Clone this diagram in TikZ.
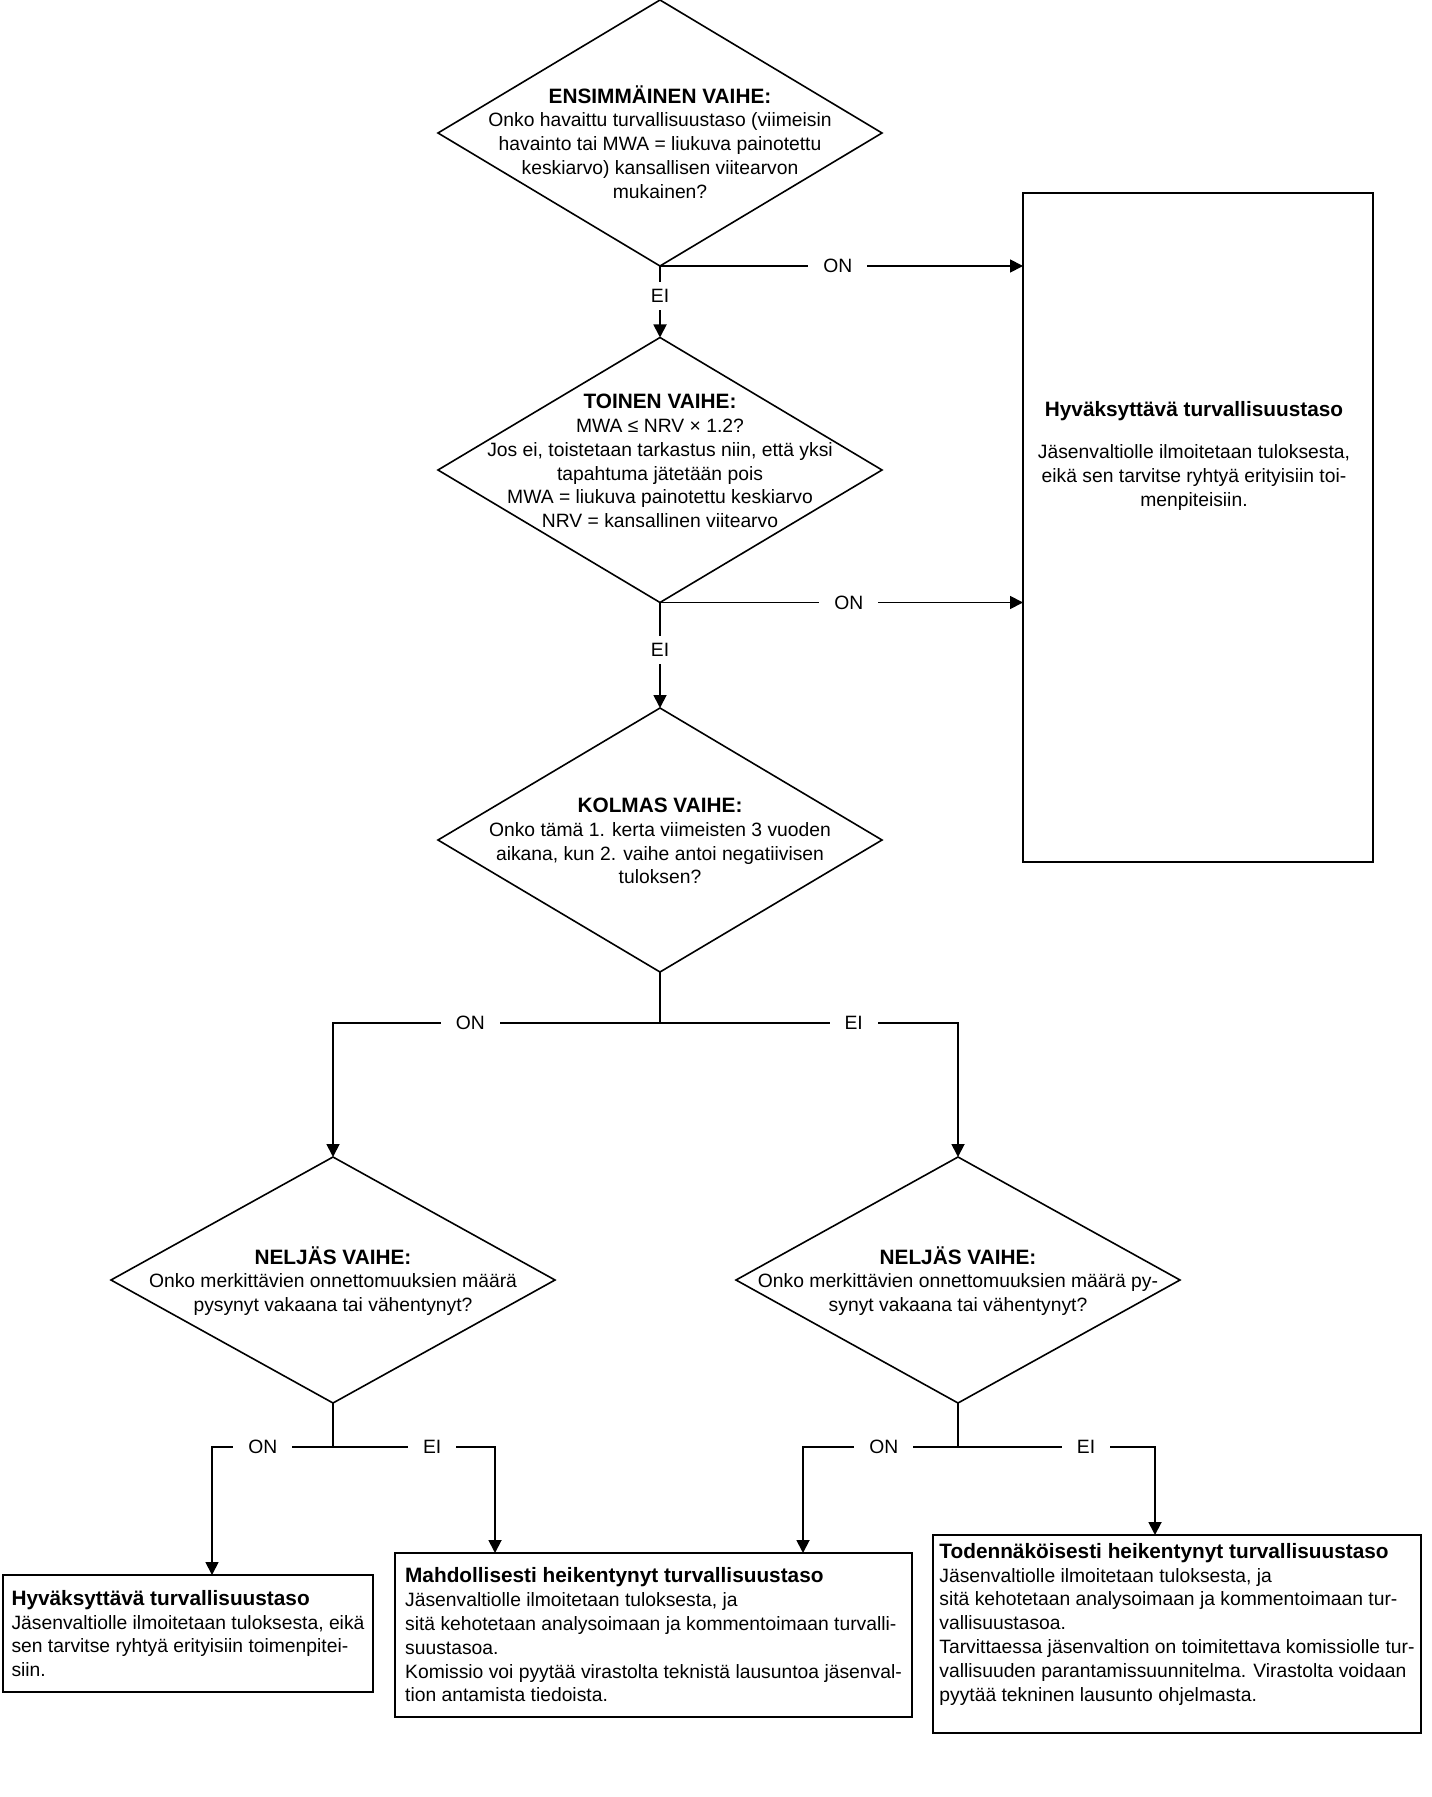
\documentclass[tikz,border=0pt]{standalone}
\usepackage{fontspec}
\setmainfont{Liberation Sans}
\usetikzlibrary{shapes.geometric,arrows.meta}
\newcommand{\teksti}{\fontsize{9.65}{11.9}\selectfont}
\newcommand{\otsikko}[1]{{\fontsize{10.4}{11.9}\selectfont\bfseries #1}}

\begin{document}
\begin{tikzpicture}[x=0.5pt, y=-0.5pt, line width=0.9pt,
    >={Triangle[length=6.5pt,width=6.5pt]},
    vaihe/.style={draw, diamond, inner sep=0pt, outer sep=0pt, minimum width=222pt, line width=0.8pt},
    vteksti/.style={align=center, inner sep=0pt, font=\teksti},
    tulos/.style={draw, rectangle, outer sep=0pt, align=left, inner sep=0pt, font=\teksti},
    haara/.style={fill=white, inner xsep=7.5pt, inner ysep=3.5pt, font=\teksti}]
    \useasboundingbox (0,0) rectangle (1431,1797);

    % vaiheet
    \node[vaihe, minimum height=133pt] (d1) at (660,133) {};
    \node[vaihe, minimum height=132.5pt] (d2) at (660,470) {};
    \node[vaihe, minimum height=132pt] (d3) at (660,840) {};
    \node[vaihe, minimum height=123pt] (d4a) at (333,1280) {};
    \node[vaihe, minimum height=123pt] (d4b) at (958,1280) {};

    \node[vteksti] (t1) at (660,142) {\otsikko{ENSIMMÄINEN VAIHE:}\\
      Onko havaittu turvallisuustaso (viimeisin\\
      havainto tai MWA = liukuva painotettu\\
      keskiarvo) kansallisen viitearvon\\
      mukainen?};
    \node[vteksti] (t2) at (660,461) {\otsikko{TOINEN VAIHE:}\\
      MWA ≤ NRV × 1.2?\\
      Jos ei, toistetaan tarkastus niin, että yksi\\
      tapahtuma jätetään pois\\
      MWA = liukuva painotettu keskiarvo\\
      NRV = kansallinen viitearvo};
    \node[vteksti] (t3) at (660,841) {\otsikko{KOLMAS VAIHE:}\\
      Onko tämä 1. kerta viimeisten 3 vuoden\\
      aikana, kun 2. vaihe antoi negatiivisen\\
      tuloksen?};
    \node[vteksti] (t4a) at (333,1281) {\otsikko{NELJÄS VAIHE:}\\
      Onko merkittävien onnettomuuksien määrä\\
      pysynyt vakaana tai vähentynyt?};
    \node[vteksti] (t4b) at (958,1281) {\otsikko{NELJÄS VAIHE:}\\
      Onko merkittävien onnettomuuksien määrä py-\\
      synyt vakaana tai vähentynyt?};

    % tulokset
    \node[draw, outer sep=0pt, inner sep=0pt, minimum width=175pt, minimum height=334.5pt] (hyv) at (1198,527.5) {};
    \node[vteksti] (hyvt) at (1194,456) {\otsikko{Hyväksyttävä turvallisuustaso}\\[9pt]
      Jäsenvaltiolle ilmoitetaan tuloksesta,\\
      eikä sen tarvitse ryhtyä erityisiin toi-\\
      menpiteisiin.};

    \node[tulos, minimum width=185pt, minimum height=58.5pt] (hyv2) at (188,1633.5)
      {\otsikko{Hyväksyttävä turvallisuustaso}\\
      Jäsenvaltiolle ilmoitetaan tuloksesta, eikä\\
      sen tarvitse ryhtyä erityisiin toimenpitei-\\
      siin.};
    \node[tulos, minimum width=258.5pt, minimum height=82pt] (mahd) at (653.5,1635)
      {\otsikko{Mahdollisesti heikentynyt turvallisuustaso}\\
      Jäsenvaltiolle ilmoitetaan tuloksesta, ja\\
      sitä kehotetaan analysoimaan ja kommentoimaan turvalli-\\
      suustasoa.\\
      Komissio voi pyytää virastolta teknistä lausuntoa jäsenval-\\
      tion antamista tiedoista.};
    \node[tulos, minimum width=244pt, minimum height=99pt] (tod) at (1177,1634)
      {\otsikko{Todennäköisesti heikentynyt turvallisuustaso}\\
      Jäsenvaltiolle ilmoitetaan tuloksesta, ja\\
      sitä kehotetaan analysoimaan ja kommentoimaan tur-\\
      vallisuustasoa.\\
      Tarvittaessa jäsenvaltion on toimitettava komissiolle tur-\\
      vallisuuden parantamissuunnitelma. Virastolta voidaan\\
      pyytää tekninen lausunto ohjelmasta.\\
      \mbox{}};

    % haarat
    \draw[->] (d1.south) -- node[haara, pos=0.49] (on1) {ON} (d1.south -| hyv.west);
    \draw[->] (d1.south) -- node[haara, pos=0.42] (ei1) {EI} (d2.north);
    \draw[->] (d2.south) -- node[haara, pos=0.52] (on2) {ON} (d2.south -| hyv.west);
    \draw[->] (d2.south) -- node[haara, pos=0.45] (ei2) {EI} (d3.north);

    \coordinate (h3) at (660,1023);
    \draw[->] (d3.south) |- node[haara, pos=0.79] (on3) {ON} (h3 -| d4a.north) -- (d4a.north);
    \draw[->] (d3.south) |- node[haara, pos=0.825] (ei3) {EI} (h3 -| d4b.north) -- (d4b.north);

    \coordinate (c4a) at (212,1447);
    \coordinate (c4b) at (495,1447);
    \coordinate (c4c) at (803,1447);
    \coordinate (c4d) at (1155,1447);
    \draw[->] (d4a.south) |- node[haara, pos=0.79] (on4a) {ON} (c4a) -- (c4a |- hyv2.north);
    \draw[->] (d4a.south) |- node[haara, pos=0.806] (ei4a) {EI} (c4b) -- (c4b |- mahd.north);
    \draw[->] (d4b.south) |- node[haara, pos=0.739] (on4b) {ON} (c4c) -- (c4c |- mahd.north);
    \draw[->] (d4b.south) |- node[haara, pos=0.825] (ei4b) {EI} (c4d) -- (c4d |- tod.north);
\end{tikzpicture}
\end{document}
